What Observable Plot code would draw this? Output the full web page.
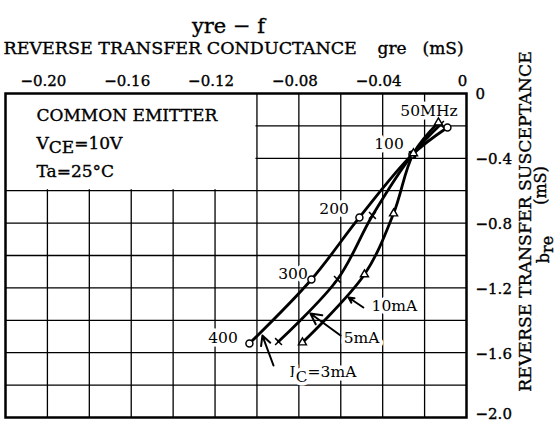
<!DOCTYPE html>
<html>
<head>
<meta charset="utf-8">
<script src="https://cdn.jsdelivr.net/npm/d3@7"></script>
<script src="https://cdn.jsdelivr.net/npm/@observablehq/plot@0.6"></script>
<style>
  body { margin: 0; background: #fff; }
  #chart svg { display: block; }
</style>
</head>
<body>
<div id="chart"></div>
<script>
// ---- data ----
const freqsMHz = [50, 100, 200, 300, 400];
const gre3mA  = [-0.0091, -0.0258, -0.0511, -0.0740, -0.1036];
const bre3mA  = [-0.210, -0.377, -0.765, -1.148, -1.543];
const gre5mA  = [-0.0124, -0.0258, -0.0449, -0.0616, -0.0897];
const bre5mA  = [-0.191, -0.377, -0.753, -1.148, -1.531];
const gre10mA = [-0.0134, -0.0253, -0.0348, -0.0487, -0.0783];
const bre10mA = [-0.179, -0.370, -0.741, -1.117, -1.537];

const xTicks = [-0.20, -0.16, -0.12, -0.08, -0.04, 0];
const xTickLabels = ["\u22120.20", "\u22120.16", "\u22120.12", "\u22120.08", "\u22120.04", "0"];
const yTicks = [0, -0.4, -0.8, -1.2, -1.6, -2.0];
const yTickLabels = ["0", "\u22120.4", "\u22120.8", "\u22121.2", "\u22121.6", "\u22122.0"];
const xGrid = [-0.20, -0.18, -0.16, -0.14, -0.12, -0.10, -0.08, -0.06, -0.04, -0.02];
const yGrid = [-0.2, -0.4, -0.6, -0.8, -1.0, -1.2, -1.4, -1.6, -1.8];

const titleText = "yre \u2212 f";
const xTitle = "REVERSE TRANSFER CONDUCTANCE";
const xTitleVar = "gre";
const xTitleUnit = "(mS)";
const yTitle = "REVERSE TRANSFER SUSCEPTANCE";
const yTitleVar = "b_{re}";
const yTitleUnit = "(mS)";
const conditionLines = ["COMMON EMITTER", "V_{CE}=10V", "Ta=25\u00B0C"];

// annotation anchors (data coords)
const freqLabelText = ["50MHz", "100", "200", "300", "400"];
const freqLabelG = [-0.0179, -0.0370, -0.0632, -0.0828, -0.1162];
const freqLabelB = [-0.136, -0.340, -0.741, -1.142, -1.543];
const icLabelText = ["10mA", "5mA", "I_{C}=3mA"];
const icLabelG = [-0.0344, -0.0501, -0.0685];
const icLabelB = [-1.340, -1.543, -1.751];
const arrowTailG = [-0.0492, -0.0601, -0.0921];
const arrowTailB = [-1.321, -1.494, -1.679];
const arrowTipG  = [-0.0563, -0.0745, -0.0974];
const arrowTipB  = [-1.259, -1.358, -1.494];
const condG = -0.2052;
const condB = [-0.167, -0.340, -0.517];
const boxG = [-0.22, -0.10];
const boxB = [0, -0.6];

// ---- tables built from the arrays ----
const series = [
  {ic: "3mA", g: gre3mA, b: bre3mA},
  {ic: "5mA", g: gre5mA, b: bre5mA},
  {ic: "10mA", g: gre10mA, b: bre10mA}
];
const rows = series.flatMap(s => freqsMHz.map((f, i) => ({ic: s.ic, f, g: s.g[i], b: s.b[i]})));
const freqLabels = freqLabelText.map((t, i) => ({t, g: freqLabelG[i], b: freqLabelB[i]}));
const icLabels = icLabelText.map((t, i) => ({t, g: icLabelG[i], b: icLabelB[i]}));
const arrows = icLabelText.map((t, i) => ({g1: arrowTailG[i], b1: arrowTailB[i], g2: arrowTipG[i], b2: arrowTipB[i]}));
const conds = conditionLines.map((t, i) => ({t, g: condG, b: condB[i]}));
const yTickFmt = d => yTickLabels[yTicks.indexOf(d)];
const yTicksInner = yTicks.slice(0, -1);
const yTicksLast = yTicks.slice(-1);

const FONT = "DejaVu Serif";

const svg = Plot.plot({
  width: 559,
  height: 423,
  marginLeft: 5,
  marginRight: 93,
  marginTop: 93,
  marginBottom: 6,
  style: {fontFamily: FONT, fontSize: "15px", background: "#fff", color: "#000"},
  x: {domain: [-0.22, 0]},
  y: {domain: [-2.0, 0]},
  marks: [
    Plot.ruleX(xGrid, {stroke: "#000", strokeWidth: 1.3}),
    Plot.ruleY(yGrid, {stroke: "#000", strokeWidth: 1.3}),
    Plot.rect([{}], {x1: () => boxG[0], x2: () => boxG[1], y1: () => boxB[0], y2: () => boxB[1],
      fill: "#fff", insetRight: 1, insetBottom: 1}),
    Plot.text(conds, {x: "g", y: "b", text: "t", textAnchor: "start", lineAnchor: "bottom",
      fontSize: 17, fill: "#000"}),
    Plot.text(freqLabels, {x: "g", y: "b", text: "t", textAnchor: "middle", lineAnchor: "bottom",
      fontSize: 15.5, fill: "#000", stroke: "#fff", strokeWidth: 7}),
    Plot.text(icLabels, {x: "g", y: "b", text: "t", textAnchor: "middle", lineAnchor: "bottom",
      fontSize: 15.5, fill: "#000", stroke: "#fff", strokeWidth: 7}),
    Plot.line(rows, {x: "g", y: "b", z: "ic", curve: "catmull-rom", stroke: "#000", strokeWidth: 2.8}),
    Plot.arrow(arrows, {x1: "g1", y1: "b1", x2: "g2", y2: "b2", stroke: "#000", strokeWidth: 2,
      headLength: 9, headAngle: 55}),
    Plot.dot(rows.filter(d => d.ic === "3mA"), {x: "g", y: "b", symbol: "circle", r: 3.5,
      fill: "#fff", stroke: "#000", strokeWidth: 1.5}),
    Plot.dot(rows.filter(d => d.ic === "5mA"), {x: "g", y: "b", symbol: "times", r: 3.2,
      stroke: "#000", strokeWidth: 1.5}),
    Plot.dot(rows.filter(d => d.ic === "10mA"), {x: "g", y: "b", symbol: "triangle", r: 3,
      fill: "#fff", stroke: "#000", strokeWidth: 1.4}),
    Plot.axisX(xTicks, {anchor: "top", tickSize: 0, tickPadding: 8, dx: -4, fontSize: 15,
      tickFormat: d => xTickLabels[xTicks.indexOf(d)], label: null}),
    Plot.axisY(yTicksInner, {anchor: "right", tickSize: 0, tickPadding: 9, dy: 1, fontSize: 15,
      tickFormat: yTickFmt, label: null}),
    Plot.axisY(yTicksLast, {anchor: "right", tickSize: 0, tickPadding: 9, dy: -3, fontSize: 15,
      tickFormat: yTickFmt, label: null}),
    Plot.text([titleText], {frameAnchor: "top-left", dx: 223, dy: -61, textAnchor: "middle",
      lineAnchor: "bottom", fontSize: 21, fill: "#000"}),
    Plot.text([xTitle], {frameAnchor: "top-left", dx: -2, dy: -40, textAnchor: "start",
      lineAnchor: "bottom", fontSize: 17.5, fill: "#000"}),
    Plot.text([xTitleVar], {frameAnchor: "top-left", dx: 372, dy: -40, textAnchor: "start",
      lineAnchor: "bottom", fontSize: 17, fill: "#000"}),
    Plot.text([xTitleUnit], {frameAnchor: "top-left", dx: 417, dy: -40, textAnchor: "start",
      lineAnchor: "bottom", fontSize: 17, fill: "#000"}),
    Plot.text([yTitle], {frameAnchor: "top-right", dx: 64, dy: 128, rotate: -90, textAnchor: "middle",
      lineAnchor: "bottom", fontSize: 17.3, fill: "#000"}),
    Plot.text([yTitleVar], {frameAnchor: "top-right", dx: 82, dy: 156, rotate: -90, textAnchor: "middle",
      lineAnchor: "bottom", fontSize: 16, fill: "#000"}),
    Plot.text([yTitleUnit], {frameAnchor: "top-right", dx: 79, dy: 92, rotate: -90, textAnchor: "middle",
      lineAnchor: "bottom", fontSize: 16, fill: "#000"}),
    Plot.frame({stroke: "#000", strokeWidth: 2.5})
  ]
});

// subscripts: "X_{sub}Y" -> tspans
d3.select(svg).selectAll("text").each(function () {
  const t = this.textContent;
  if (!t || !t.includes("_{")) return;
  const parts = t.split(/_\{([^}]*)\}/);
  this.textContent = "";
  let shifted = false;
  parts.forEach((p, i) => {
    const isSub = i % 2 === 1;
    if (!p) return;
    const ts = document.createElementNS("http://www.w3.org/2000/svg", "tspan");
    if (isSub && !shifted) { ts.setAttribute("dy", "0.28em"); shifted = true; }
    else if (!isSub && shifted) { ts.setAttribute("dy", "-0.28em"); shifted = false; }
    ts.textContent = p;
    this.appendChild(ts);
  });
});

// slightly heavier glyphs (scanned-print look) for texts without a white halo
d3.select(svg).selectAll("text").each(function () {
  const g = this.closest("g[stroke]");
  const s = g ? g.getAttribute("stroke") : null;
  if (s === "#fff" || s === "white") return;
  this.style.stroke = "#000";
  this.style.strokeWidth = "0.35px";
});

document.getElementById("chart").appendChild(svg);
</script>
</body>
</html>
